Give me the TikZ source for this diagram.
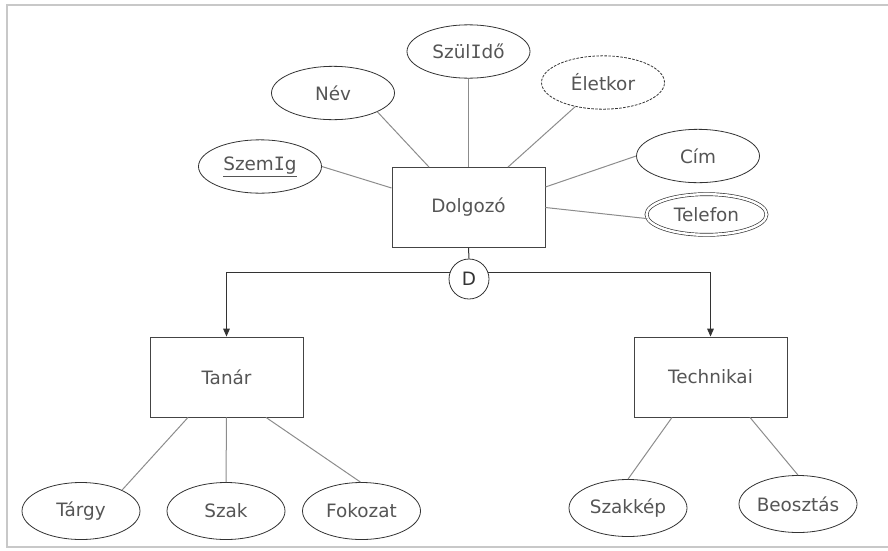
\documentclass[tikz,border=0pt]{standalone}
\usepackage{fontspec}
\setmainfont{DejaVu Sans}
\newfontfamily\monoI{DejaVu Sans Mono}
\newcommand{\serifI}{{\monoI I}}
\usetikzlibrary{shapes.geometric,arrows.meta,calc}
\definecolor{txt}{HTML}{555555}
\definecolor{edge}{HTML}{333333}
\definecolor{redge}{HTML}{444444}
\definecolor{conn}{HTML}{8C8C8C}
\definecolor{frame}{HTML}{C8C8C8}
\tikzset{
  lbl/.style={text=txt,font=\fontsize{13.8}{16}\selectfont},
  entity/.style={lbl,draw=redge,line width=0.65pt,rectangle,minimum width=114.75pt,minimum height=60pt,inner sep=0pt},
  attr/.style={lbl,draw=edge,line width=0.6pt,ellipse,minimum width=92.25pt,minimum height=40pt,inner sep=0pt},
  lowattr/.style={attr,minimum width=88.5pt,minimum height=42.75pt},
  derived/.style={attr,dashed,dash pattern=on 2pt off 1pt},
  multi/.style={attr,double,double distance=1.8pt,line width=0.5pt,minimum width=90pt,minimum height=30.5pt},
  conline/.style={draw=conn,line width=0.75pt},
  isa/.style={draw=edge,line width=0.75pt,-{Triangle[length=6pt,width=5pt]}},
  dcircle/.style={lbl,draw=edge,line width=0.6pt,circle,minimum size=30pt,inner sep=0pt,fill=white,text=edge},
  framel/.style={draw=frame,line width=1.5pt}
}
\begin{document}
\begin{tikzpicture}[x=0.75pt,y=-0.75pt]
\useasboundingbox (0,0) rectangle (888,550);
\coordinate (f1) at (888,5);
\coordinate (f2) at (7,5);
\coordinate (f3) at (7,547);
\coordinate (f4) at (888,547);
\draw[framel] (f1) -- (f2) -- (f3) -- (f4);

\node[entity] (dolgozo) at (468.5,207.5) {Dolgozó};
\node[entity] (tanar) at (226.5,377) {Tanár};
\node[entity] (technikai) at (710.5,377) {Technikai};

\node[attr] (szemig) at (260,166.5) {\underline{Szem\serifI g}};
\node[attr] (nev) at (333,93) {Név};
\node[attr] (szulido) at (468.5,51.5) {Szül\serifI dő};
\node[derived] (eletkor) at (603,82.5) {Életkor};
\node[attr] (cim) at (698,156) {Cím};
\node[multi] (telefon) at (706.5,214.5) {Telefon};

\node[lowattr] (targy) at (81,511) {Tárgy};
\node[lowattr] (szak) at (226,511) {Szak};
\node[lowattr] (fokozat) at (361.5,511) {Fokozat};
\node[lowattr] (szakkep) at (628,508) {Szakkép};
\node[lowattr] (beosztas) at (798,504) {Beosztás};

\draw[conline] (szemig.east) -- ($(dolgozo.west)+(0,-19.5)$);
\draw[conline] (nev.-23) -- ($(dolgozo.north)+(-39.5,0)$);
\draw[conline] (szulido.south) -- (dolgozo.north);
\draw[conline] (eletkor.-139) -- ($(dolgozo.north)+(39.5,0)$);
\draw[conline] (cim.west) -- ($(dolgozo.east)+(0,-20.5)$);
\draw[conline] (telefon.184) -- (dolgozo.east);

\draw[conline] ($(tanar.south)+(-38.5,0)$) -- (targy.27);
\draw[conline] (tanar.south) -- (szak.north);
\draw[conline] ($(tanar.south)+(39.5,0)$) -- (fokozat.92);
\draw[conline] ($(technikai.south)+(-38.5,0)$) -- (szakkep.north);
\draw[conline] ($(technikai.south)+(39.5,0)$) -- (beosztas.north);

\coordinate (hl) at (226.5,272);
\coordinate (hr) at (710.5,272);
\draw[draw=edge,line width=0.75pt] (hl) -- (hr);
\draw[isa] (hl) -- (tanar.north);
\draw[isa] (hr) -- (technikai.north);
\node[dcircle] (d) at (469,279) {D};
\draw[draw=edge,line width=0.75pt] (dolgozo.south) -- (d.north);
\end{tikzpicture}
\end{document}
